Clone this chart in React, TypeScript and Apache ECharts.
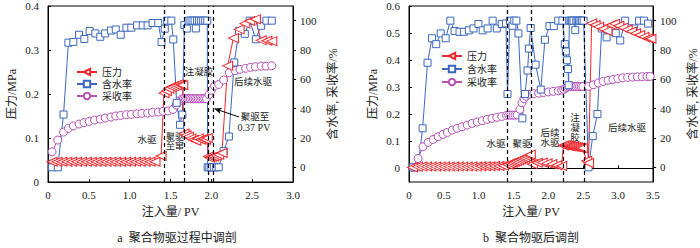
import React, { useEffect, useRef } from 'react';
import * as echarts from 'echarts';

const FONT = "'Liberation Serif', 'Noto Sans CJK SC', serif";
const RED = '#f0262b';
const BLUE = '#3a68bd';
const PURPLE = '#b74fb8';
const INK = '#1a1a1a';
const LEFT_TRIANGLE = 'path://M0,5L10,0L10,10Z';

const seriesNames = ['压力', '含水率', '采收率'];
const rightTicks = [0, 20, 40, 60, 80, 100];
const aLeftTicks = [0, 0.1, 0.2, 0.3, 0.4];
const bLeftTicks = [0, 0.1, 0.2, 0.3, 0.4, 0.5, 0.6];

// ---------- panel a: 聚合物驱过程中调剖 ----------
const aPressure = [
  [0.05, 0.046], [0.11, 0.046], [0.17, 0.046], [0.23, 0.046], [0.29, 0.046], [0.35, 0.046],
  [0.41, 0.046], [0.47, 0.046], [0.53, 0.046], [0.59, 0.046], [0.65, 0.046], [0.71, 0.046],
  [0.77, 0.046], [0.83, 0.046], [0.89, 0.046], [0.95, 0.046], [1.01, 0.046], [1.07, 0.046],
  [1.13, 0.046], [1.19, 0.046], [1.25, 0.046], [1.31, 0.046], [1.385, 0.059],
  [1.42, 0.202], [1.45, 0.207], [1.48, 0.212], [1.51, 0.216], [1.54, 0.218], [1.57, 0.22],
  [1.6, 0.222], [1.63, 0.221], [1.65, 0.22],
  [1.665, 0.11], [1.69, 0.106], [1.72, 0.103], [1.75, 0.099], [1.78, 0.096], [1.81, 0.094],
  [1.84, 0.099], [1.87, 0.096], [1.9, 0.098], [1.93, 0.096], [1.95, 0.1],
  [1.965, 0.058], [1.98, 0.055], [2.0, 0.057], [2.03, 0.058], [2.06, 0.06], [2.09, 0.062], [2.13, 0.066],
  [2.2, 0.264], [2.27, 0.327], [2.34, 0.347], [2.41, 0.36], [2.47, 0.366], [2.54, 0.37],
  [2.61, 0.322], [2.68, 0.321], [2.74, 0.32],
];
const aWater = [
  [0.05, 0], [0.12, 0], [0.19, 36], [0.25, 85], [0.31, 85.5], [0.38, 90.4], [0.445, 87.5],
  [0.51, 93], [0.58, 91.3], [0.64, 89], [0.7, 91.3], [0.77, 93.3], [0.83, 94], [0.89, 90.4],
  [0.96, 95.2], [1.02, 95.2], [1.09, 96.8], [1.16, 96.8], [1.22, 96.8], [1.28, 98.4], [1.35, 98.4],
  [1.39, 85.4], [1.43, 94.5], [1.46, 100], [1.51, 100], [1.534, 87.2], [1.575, 44], [1.616, 29],
  [1.645, 36], [1.67, 97], [1.7, 94.6], [1.72, 100], [1.745, 100], [1.77, 100], [1.795, 100],
  [1.81, 94.7], [1.825, 100], [1.85, 100], [1.875, 100], [1.9, 100], [1.925, 100], [1.95, 100],
  [1.955, 0], [1.975, 0], [2.0, 0], [2.03, 0], [2.06, 0], [2.09, 0],
  [2.15, 11], [2.215, 21], [2.28, 71.5], [2.34, 93], [2.41, 91], [2.47, 100], [2.545, 87.3],
  [2.61, 96.5], [2.675, 100], [2.74, 100],
];
const aRecovery = [
  [0.05, 10.6], [0.12, 18.6], [0.19, 24], [0.25, 26.6], [0.31, 28.2], [0.38, 29.5], [0.44, 30.4],
  [0.505, 31.3], [0.57, 32.2], [0.64, 32.9], [0.7, 33.6], [0.77, 34.3], [0.83, 35], [0.89, 35.4],
  [0.96, 35.9], [1.02, 36.1], [1.09, 36.5], [1.15, 36.8], [1.22, 37], [1.28, 37.5], [1.35, 37.7],
  [1.41, 38.2], [1.47, 38.4], [1.53, 39.5], [1.57, 42.5], [1.61, 45.4], [1.64, 46.6],
  [1.66, 46.8], [1.68, 46.8], [1.7, 46.8], [1.72, 46.8], [1.74, 46.8], [1.76, 46.8], [1.78, 46.8],
  [1.8, 46.8], [1.82, 46.8], [1.84, 46.8], [1.86, 46.8], [1.88, 46.8], [1.9, 46.8], [1.92, 46.8],
  [1.94, 46.8], [1.97, 49.5], [2.0, 52.5], [2.04, 55.5], [2.09, 56.5], [2.15, 59.5], [2.22, 64.5],
  [2.29, 65.9], [2.35, 66.8], [2.42, 67.5], [2.48, 68.2], [2.54, 68.6], [2.61, 69], [2.67, 69], [2.74, 69.3],
];
const aStageLines = [1.424, 1.665, 1.955, 2.025];
const aArrowFrom = [2.34, 34.3];
const aArrowTo = [2.04, 40];

// ---------- panel b: 聚合物驱后调剖 ----------
const bPressure = [
  [0.05, 0.004], [0.12, 0.007], [0.185, 0.007], [0.25, 0.007], [0.315, 0.007], [0.38, 0.007],
  [0.445, 0.007], [0.51, 0.007], [0.575, 0.007], [0.64, 0.007], [0.705, 0.007], [0.77, 0.007],
  [0.835, 0.007], [0.9, 0.007], [0.965, 0.007], [1.03, 0.008], [1.095, 0.008], [1.16, 0.008],
  [1.225, 0.009], [1.29, 0.009], [1.355, 0.01],
  [1.42, 0.014], [1.45, 0.018], [1.48, 0.021], [1.51, 0.024], [1.54, 0.027], [1.57, 0.03],
  [1.6, 0.033], [1.63, 0.037], [1.66, 0.04], [1.69, 0.044], [1.72, 0.048], [1.74, 0.051],
  [1.77, 0.016], [1.84, 0.021], [1.91, 0.022], [1.98, 0.019], [2.05, 0.016], [2.12, 0.012], [2.19, 0.009],
  [2.215, 0.085], [2.24, 0.086], [2.265, 0.085], [2.29, 0.083], [2.315, 0.082], [2.34, 0.081],
  [2.365, 0.08], [2.39, 0.079], [2.415, 0.078], [2.44, 0.077], [2.465, 0.076], [2.49, 0.075],
  [2.55, 0.028], [2.575, 0.02],
  [2.62, 0.536], [2.67, 0.53], [2.72, 0.523], [2.78, 0.515], [2.84, 0.508], [2.9, 0.53],
  [2.95, 0.534], [3.01, 0.527], [3.07, 0.52], [3.13, 0.513], [3.19, 0.506], [3.25, 0.499],
  [3.31, 0.493], [3.37, 0.486], [3.43, 0.481], [3.47, 0.479],
];
const bWater = [
  [0.06, 0], [0.13, 0], [0.195, 26.6], [0.266, 71.3], [0.33, 88], [0.39, 84], [0.455, 91.3],
  [0.526, 88], [0.593, 100], [0.654, 93], [0.725, 92.4], [0.787, 92.4], [0.858, 93.4], [0.925, 94.7],
  [0.996, 97.7], [1.057, 93.4], [1.128, 94.7], [1.2, 100], [1.26, 94.7], [1.33, 97.7], [1.39, 98.1],
  [1.413, 50], [1.447, 100], [1.484, 96.5], [1.51, 100], [1.54, 100], [1.57, 91.3],
  [1.626, 33.4], [1.664, 50], [1.7, 66], [1.72, 81], [1.745, 95], [1.816, 70], [1.89, 53],
  [1.95, 87], [2.015, 96.3], [2.077, 96.3], [2.14, 100], [2.2, 100],
  [2.235, 84], [2.25, 79], [2.265, 73], [2.28, 67], [2.29, 56],
  [2.3, 100], [2.32, 100], [2.34, 100], [2.36, 100], [2.385, 93.5], [2.4, 100], [2.42, 100],
  [2.44, 100], [2.46, 100], [2.48, 100], [2.505, 100],
  [2.575, 0], [2.636, 21.3], [2.703, 36.3], [2.764, 94.7], [2.835, 88.6], [2.9, 94.7], [2.965, 91.5],
  [3.03, 86.5], [3.1, 100], [3.16, 94.7], [3.23, 94.7], [3.3, 100], [3.37, 100], [3.43, 98],
];
const bRecovery = [
  [0.05, 0], [0.13, 6.1], [0.2, 14], [0.275, 17], [0.346, 19], [0.417, 20.9], [0.488, 22.5],
  [0.55, 23.8], [0.62, 25.4], [0.69, 26.6], [0.76, 27.7], [0.835, 28.8], [0.906, 30], [0.977, 30.9],
  [1.05, 31.8], [1.12, 32.7], [1.19, 33.4], [1.26, 34.1], [1.33, 34.7], [1.4, 35.4], [1.43, 35.6],
  [1.46, 35.6], [1.49, 35.6], [1.52, 35.6], [1.55, 35.7], [1.59, 39.5], [1.62, 44], [1.65, 46.8],
  [1.68, 48.5], [1.72, 49.8], [1.79, 50.2], [1.86, 50.6], [1.93, 51], [2.0, 51.4], [2.07, 51.8],
  [2.14, 52.2], [2.19, 52.6], [2.22, 53.2], [2.245, 54], [2.27, 54.6], [2.295, 55], [2.32, 55.1],
  [2.345, 55.1], [2.37, 55.1], [2.395, 55.1], [2.42, 55.1], [2.445, 55.1], [2.47, 55.1], [2.495, 55.1],
  [2.575, 55.2], [2.645, 56.3], [2.715, 57.5], [2.785, 58.6], [2.855, 59.3], [2.925, 59.9],
  [2.995, 60.5], [3.065, 61], [3.135, 61.3], [3.205, 61.5], [3.275, 61.7], [3.345, 61.8], [3.415, 61.9], [3.46, 62],
];
const bStageLines = [1.413, 1.745, 2.205, 2.513];

// ---------- helpers ----------
const fmt1 = (v: number) => (Math.abs(v) < 1e-9 ? '0' : (Math.round(v * 10) / 10).toFixed(1));

function xAxis(gridIndex: number, max: number) {
  return {
    type: 'value', gridIndex, min: 0, max, interval: 0.5,
    name: '注入量/ PV', nameLocation: 'middle', nameGap: 24,
    nameTextStyle: { fontFamily: FONT, fontSize: 12, color: INK },
    axisLine: { show: true, lineStyle: { color: '#000', width: 1 } },
    axisTick: { show: true, inside: true, length: 3, lineStyle: { color: '#000' } },
    axisLabel: { formatter: fmt1, fontFamily: FONT, fontSize: 11, color: INK, margin: 7 },
    splitLine: { show: false },
  };
}
function leftAxis(gridIndex: number, min: number, max: number, ticks: number[]) {
  return {
    type: 'value', gridIndex, position: 'left', min, max,
    name: '压力/MPa', nameLocation: 'middle', nameRotate: 90, nameGap: 30,
    nameTextStyle: { fontFamily: FONT, fontSize: 12, color: INK },
    axisLine: { show: true, lineStyle: { color: '#000', width: 1 } },
    axisTick: { show: true, inside: true, length: 3, customValues: ticks, lineStyle: { color: '#000' } },
    axisLabel: { customValues: ticks, formatter: fmt1, fontFamily: FONT, fontSize: 11, color: INK, margin: 9 },
    splitLine: { show: false },
  };
}
function rightAxis(gridIndex: number) {
  return {
    type: 'value', gridIndex, position: 'right', min: -10, max: 110,
    name: '含水率, 采收率/%', nameLocation: 'middle', nameRotate: 90, nameGap: 34,
    nameTextStyle: { fontFamily: FONT, fontSize: 12, color: INK },
    axisLine: { show: true, lineStyle: { color: '#000', width: 1 } },
    axisTick: { show: true, inside: false, length: 3, customValues: rightTicks, lineStyle: { color: '#000' } },
    axisLabel: { customValues: rightTicks, fontFamily: FONT, fontSize: 11, color: INK, margin: 7 },
    splitLine: { show: false },
  };
}
function lineSeries(name: string, data: number[][], xi: number, yi: number, color: string, symbol: string, size: any, extra: any = {}) {
  return {
    name, type: 'line', data, xAxisIndex: xi, yAxisIndex: yi,
    symbol, symbolSize: size, showAllSymbol: true,
    lineStyle: { color, width: 1 },
    itemStyle: { color: '#ffffff', borderColor: color, borderWidth: 1 },
    emphasis: { disabled: true }, silent: true,
    ...extra,
  };
}
function stageMarks(xs: number[]) {
  return {
    silent: true, symbol: ['none', 'none'], animation: false,
    label: { show: false },
    lineStyle: { color: '#000', type: [4, 3], width: 1.2 },
    data: xs.map((v) => ({ xAxis: v })),
  };
}
function txt(x: number, y: number, text: string, size = 9.5, lineHeight = 10, valign = 'middle') {
  return {
    type: 'text', x, y,
    style: { text, x: 0, y: 0, align: 'center', verticalAlign: valign, fontFamily: FONT, fontSize: size, lineHeight, fill: INK },
    silent: true,
  };
}
function legend(left: number, top: number, gap: number) {
  return {
    data: seriesNames, orient: 'vertical', left, top, itemWidth: 20, itemHeight: 8, itemGap: gap,
    textStyle: { fontFamily: FONT, fontSize: 10, color: INK },
    selectedMode: false, padding: 0,
  };
}

const option: any = {
  animation: false,
  backgroundColor: '#fff',
  grid: [
    { left: 48, top: 6, width: 245, height: 176, show: true, borderColor: '#000', borderWidth: 1, backgroundColor: 'transparent' },
    { left: 409, top: 6, width: 246, height: 176, show: true, borderColor: '#000', borderWidth: 1, backgroundColor: 'transparent' },
  ],
  legend: [legend(76, 67, 2), legend(441, 51, 3)],
  xAxis: [xAxis(0, 3), xAxis(1, 3.5)],
  yAxis: [
    leftAxis(0, 0, 0.4, aLeftTicks),
    rightAxis(0),
    leftAxis(1, -0.05, 0.6, bLeftTicks),
    rightAxis(1),
  ],
  series: [
    lineSeries('采收率', aRecovery, 0, 1, PURPLE, 'circle', 8, {
      markLine: {
        silent: true, symbol: ['none', 'arrow'], symbolSize: [5, 7], label: { show: false },
        lineStyle: { color: '#000', type: 'solid', width: 1 },
        data: [[{ coord: aArrowFrom }, { coord: aArrowTo }]],
      },
    }),
    lineSeries('含水率', aWater, 0, 1, BLUE, 'rect', 7),
    lineSeries('压力', aPressure, 0, 0, RED, LEFT_TRIANGLE, [10, 9], { markLine: stageMarks(aStageLines) }),
    lineSeries('采收率', bRecovery, 1, 3, PURPLE, 'circle', 8),
    lineSeries('含水率', bWater, 1, 3, BLUE, 'rect', 7),
    lineSeries('压力', bPressure, 1, 2, RED, LEFT_TRIANGLE, [10, 9], { markLine: stageMarks(bStageLines) }),
  ],
  graphic: [
    txt(147, 140, '水驱'),
    txt(175, 132, '聚驱\n至窜', 9, 9.5, 'top'),
    txt(199, 72, '注凝胶'),
    txt(253, 82, '后续水驱'),
    txt(255, 117, '聚驱至'),
    txt(254, 127, '0.37 PV', 10),
    txt(496, 144, '水驱'),
    txt(522, 144, '聚驱'),
    txt(550, 128, '后续\n水驱', 9.5, 10, 'top'),
    txt(575, 113, '注\n凝\n胶', 9.5, 10, 'top'),
    txt(627, 128, '后续水驱'),
    txt(177, 238, 'a  聚合物驱过程中调剖', 12, 12),
    txt(531, 238, 'b  聚合物驱后调剖', 12, 12),
  ],
};

export default function App() {
  const ref = useRef<HTMLDivElement>(null);
  useEffect(() => {
    const chart = echarts.init(ref.current!, null, { renderer: 'svg' });
    chart.setOption(option);
    return () => chart.dispose();
  }, []);
  return (
    <div
      ref={ref}
      style={{ position: 'fixed', left: 0, top: 0, width: 700, height: 248, background: '#fff' }}
    />
  );
}
